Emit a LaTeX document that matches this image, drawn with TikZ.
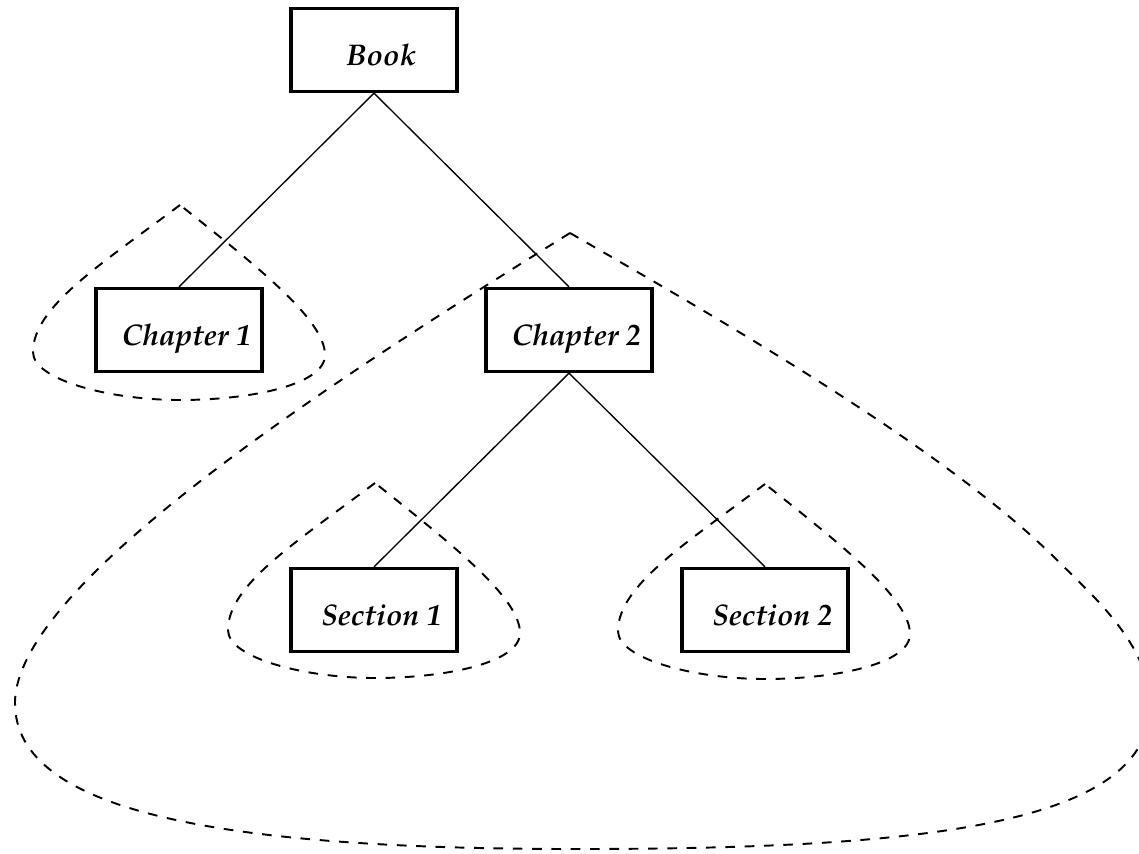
\documentclass[tikz,border=0pt]{standalone}
\usepackage[T1]{fontenc}
\usepackage{mathpazo}
% label text sits a little right of the box centre
\newcommand\boxtext[1]{\hspace*{0.3cm}#1}
\begin{document}
\begin{tikzpicture}[x=0.02cm,y=-0.02cm,
  box/.style={draw,line width=1.9pt,fill=white,minimum width=3.32cm,minimum height=1.66cm,
    inner sep=0pt,text height=0.7cm,text depth=0.1cm,
    font=\fontsize{17}{21}\selectfont\bfseries\itshape},
  edge/.style={line width=0.75pt},
  hull/.style={line width=1.1pt,dash pattern=on 5.5pt off 5.5pt,line join=round},
  leafhull/.pic={
    \draw[hull] (0,0) .. controls (-80,60) and (-147,102) .. (-147,147)
      .. controls (-147,175) and (-70,195) .. (0,195)
      .. controls (70,195) and (145,180) .. (145,150)
      .. controls (145,115) and (78,62) .. (0,0) -- cycle;
  }]
\useasboundingbox (0,0) rectangle (1139,853);
\clip (0,0) rectangle (1139,853);

% dashed groupings
\pic at (180,205) {leafhull};
\pic at (375,483) {leafhull};
\pic at (765,484) {leafhull};
\draw[hull] (570,233) .. controls (357.5,365.5) and (15,580) .. (15,703)
  .. controls (15,813) and (225,849) .. (575,849)
  .. controls (925,849) and (1150,825) .. (1150,705)
  .. controls (1150,645) and (1092,595) .. (1057,560)
  .. controls (944,447) and (708.6,313) .. (570,233) -- cycle;

% tree
\node[box] (book) at (374,50) {\boxtext{Book}};
\node[box] (ch1) at (179,330) {\boxtext{Chapter 1}};
\node[box] (ch2) at (569,330) {\boxtext{Chapter 2}};
\node[box] (sec1) at (374,610) {\boxtext{Section 1}};
\node[box] (sec2) at (765,610) {\boxtext{Section 2}};

\draw[edge] (book.south) -- (ch1.north);
\draw[edge] (book.south) -- (ch2.north);
\draw[edge] (ch2.south) -- (sec1.north);
\draw[edge] (ch2.south) -- (sec2.north);
\end{tikzpicture}
\end{document}
